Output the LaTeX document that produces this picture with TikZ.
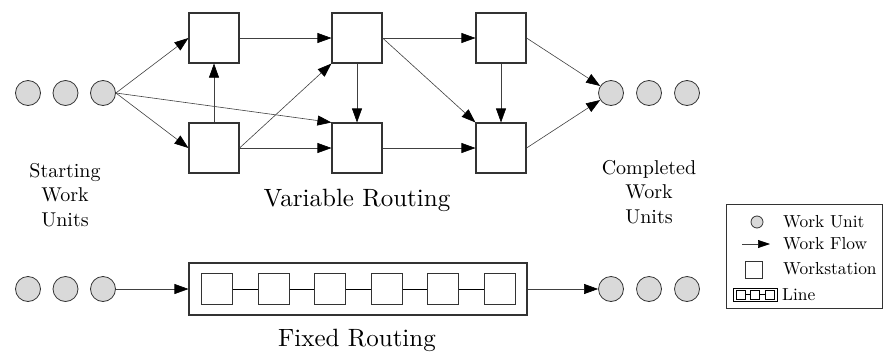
\documentclass[tikz,border=0pt]{standalone}
\usepackage{fontspec}
\setmainfont{lmroman10-regular.otf}
\usetikzlibrary{arrows.meta}
\begin{document}
\begin{tikzpicture}[x=1pt,y=-1pt,
  wu/.style={circle,draw=black!80,fill=black!15,line width=0.8pt,minimum size=25pt,inner sep=0pt},
  ws/.style={rectangle,draw=black!80,line width=1.1pt,minimum size=50pt,inner sep=0pt},
  flow/.style={draw=black!75,line width=0.6pt,-{Triangle[length=14pt,width=10pt,color=black]}},
  link/.style={draw=black,line width=0.8pt},
  lab/.style={font=\fontsize{20}{24.5}\selectfont,align=center},
  ttl/.style={font=\fontsize{25}{30}\selectfont},
  leg/.style={font=\fontsize{17.4}{20}\selectfont,anchor=west,inner sep=0pt}]
\useasboundingbox (0,0) rectangle (883,351);

% ---------- Variable routing ----------
\node[wu] (s1) at (28,93) {};
\node[wu] (s2) at (65.5,93) {};
\node[wu] (s3) at (103,93) {};
\node[ws] (A1) at (214,38) {};
\node[ws] (A2) at (214,148) {};
\node[ws] (B1) at (357,38) {};
\node[ws] (B2) at (357,148) {};
\node[ws] (C1) at (501,38) {};
\node[ws] (C2) at (501,148) {};
\node[wu] (o1) at (611,93) {};
\node[wu] (o2) at (649,93) {};
\node[wu] (o3) at (687,93) {};

\draw[flow] (s3.east) -- (A1.west);
\draw[flow] (s3.east) -- (A2.west);
\draw[flow] (s3.east) -- (B2.north west);
\draw[flow] (A1) -- (B1);
\draw[flow] (A2) -- (A1);
\draw[flow] (A2.east) -- (B1.south west);
\draw[flow] (A2) -- (B2);
\draw[flow] (B1) -- (C1);
\draw[flow] (B1) -- (B2);
\draw[flow] (B1.east) -- (C2.north west);
\draw[flow] (B2) -- (C2);
\draw[flow] (C1) -- (C2);
\draw[flow] (C1.east) -- (o1);
\draw[flow] (C2.east) -- (o1);

\node[lab] (lstart) at (65,195) {Starting\\Work\\Units};
\node[lab] (lend) at (649,192) {Completed\\Work\\Units};
\node[ttl] (tvar) at (357,200) {Variable Routing};

% ---------- Fixed routing ----------
\node[wu] (fs1) at (28,289) {};
\node[wu] (fs2) at (65.5,289) {};
\node[wu] (fs3) at (103,289) {};
\node[draw=black!80,line width=1.1pt,minimum width=338pt,minimum height=52pt,inner sep=0pt] (line) at (358,289) {};
\foreach \i/\x in {1/217,2/273.6,3/330.2,4/386.8,5/443.4,6/500}
  \node[ws,minimum size=31pt] (L\i) at (\x,289) {};
\foreach \i/\j in {1/2,2/3,3/4,4/5,5/6}
  \draw[link] (L\i) -- (L\j);
\node[wu] (fo1) at (611,289) {};
\node[wu] (fo2) at (649,289) {};
\node[wu] (fo3) at (687,289) {};
\draw[flow] (fs3) -- (line);
\draw[flow] (line) -- (fo1);
\node[ttl] (tfix) at (357,340) {Fixed Routing};

% ---------- Legend ----------
\node[draw=black!80,line width=1pt,minimum width=156pt,minimum height=104pt,inner sep=0pt] (legend) at (804,256) {};
\node[wu,minimum size=12pt] (lgc) at (757,222) {};
\node[leg] (lgt1) at (783,222) {Work Unit};
\coordinate (lga0) at (742,244);
\coordinate (lga1) at (770,244);
\draw[flow,-{Triangle[length=12pt,width=8pt,color=black]}] (lga0) -- (lga1);
\node[leg] (lgt2) at (783,244) {Work Flow};
\node[ws,minimum size=17pt] (lgs) at (754,270) {};
\node[leg] (lgt3) at (783,269) {Workstation};
\node[draw=black,line width=0.8pt,minimum width=44pt,minimum height=13pt,inner sep=0pt] (lgl) at (755,294.5) {};
\node[draw=black,line width=0.7pt,minimum size=9pt,inner sep=0pt] (lq1) at (740.5,294.5) {};
\node[draw=black,line width=0.7pt,minimum size=9pt,inner sep=0pt] (lq2) at (755,294.5) {};
\node[draw=black,line width=0.7pt,minimum size=9pt,inner sep=0pt] (lq3) at (769.5,294.5) {};
\draw[link,line width=0.7pt] (lq1) -- (lq2);
\draw[link,line width=0.7pt] (lq2) -- (lq3);
\node[leg] (lgt4) at (782,295) {Line};
\end{tikzpicture}
\end{document}
